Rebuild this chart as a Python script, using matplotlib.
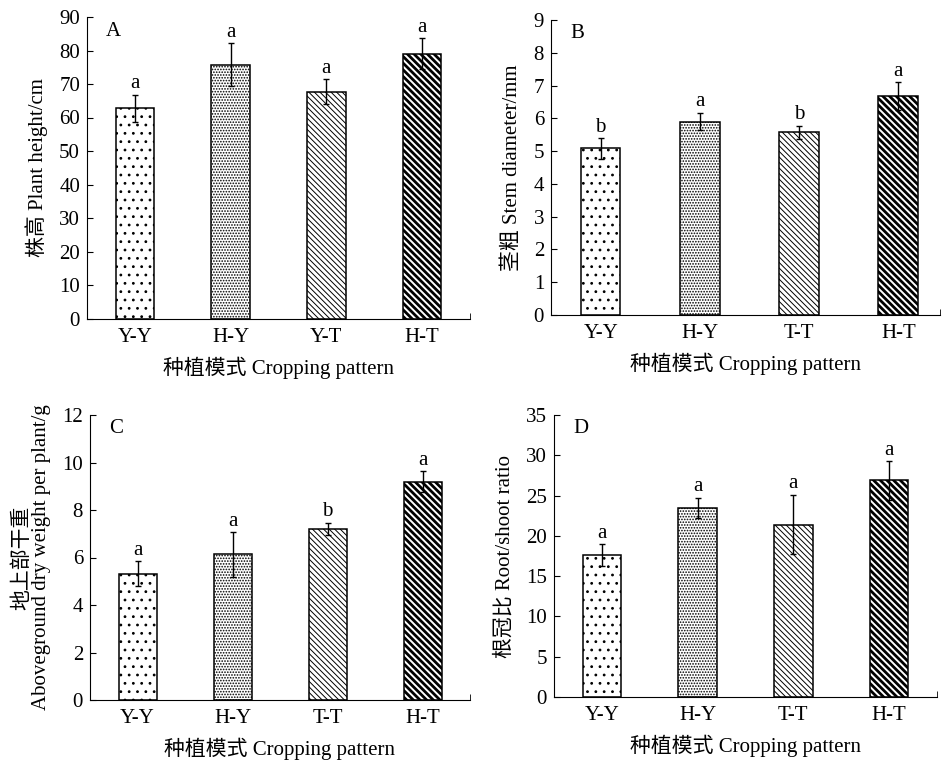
import matplotlib
matplotlib.use("Agg")
import matplotlib.pyplot as plt

plt.rcParams["font.family"] = ["Liberation Serif", "Noto Sans CJK SC"]
plt.rcParams["font.size"] = 15
plt.rcParams["hatch.linewidth"] = 0.8

# Datos
grupos_a = ["Y-Y", "H-Y", "Y-T", "H-T"]
grupos = ["Y-Y", "H-Y", "T-T", "H-T"]

altura = [62.8, 75.8, 67.7, 79.0]
altura_err = [4.0, 6.4, 3.8, 4.6]
altura_sig = ["a", "a", "a", "a"]

tallo = [5.08, 5.90, 5.57, 6.68]
tallo_err = [0.32, 0.27, 0.21, 0.42]
tallo_sig = ["b", "a", "b", "a"]

peso = [5.32, 6.13, 7.20, 9.19]
peso_err = [0.52, 0.93, 0.27, 0.44]
peso_sig = ["a", "a", "b", "a"]

raiz = [17.6, 23.5, 21.4, 26.9]
raiz_err = [1.4, 1.25, 3.7, 2.4]
raiz_sig = ["a", "a", "a", "a"]

tramas = ["..", "......", "\\" * 6, "\\" * 5]
grosor_trama = [0.8, 0.8, 0.7, 2.0]

fig = plt.figure(figsize=(9.42, 7.6), dpi=100)
W, H = 942, 760


def panel(px, etiquetas, valores, errores, sig, ymax, paso, ylabel, letra, xmax=3.5):
    # px = (izquierda, derecha, arriba, abajo) en píxeles
    izq, der, arr, aba = px
    ax = fig.add_axes([izq / W, 1 - aba / H, (der - izq) / W, (aba - arr) / H])
    x = list(range(len(valores)))
    barras = ax.bar(x, valores, width=0.4, color="white", edgecolor="black", linewidth=1.1)
    for b, h, lw in zip(barras, tramas, grosor_trama):
        b.set_hatch(h)
        try:
            b.set_hatch_linewidth(lw)
        except AttributeError:
            pass
    ax.errorbar(x, valores, yerr=errores, fmt="none", ecolor="black", elinewidth=1.0,
                capsize=2.5, capthick=1.0)
    for xi, v, e, s in zip(x, valores, errores, sig):
        ax.annotate(s, (xi, v + e), xytext=(0, 1), textcoords="offset points",
                    ha="center", va="bottom", fontsize=15)
    ax.set_xlim(-0.5, xmax)
    ax.set_ylim(0, ymax)
    ax.set_yticks([i * paso for i in range(int(round(ymax / paso)) + 1)])
    ax.set_xticks(x)
    ax.set_xticklabels(etiquetas)
    ax.set_xticks([xmax], minor=True)
    ax.tick_params(axis="x", which="major", length=0, pad=6.5, labelsize=15)
    ax.tick_params(axis="x", which="minor", direction="in", length=4)
    ax.tick_params(axis="y", direction="in", length=4, pad=5, labelsize=15)
    ax.spines["top"].set_visible(False)
    ax.spines["right"].set_visible(False)
    ax.set_xlabel("种植模式 Cropping pattern", fontsize=15, labelpad=7)
    ax.set_ylabel(ylabel, fontsize=15, labelpad=8, linespacing=1.0)
    ax.text(0.05, 0.985, letra, transform=ax.transAxes, ha="left", va="top", fontsize=15)
    return ax


panel((87, 470, 17, 318.5), grupos_a, altura, altura_err, altura_sig,
      90, 10, "株高 Plant height/cm", "A")
panel((551, 940, 20, 315), grupos, tallo, tallo_err, tallo_sig,
      9, 1, "茎粗 Stem diameter/mm", "B", xmax=3.42)
panel((90, 470, 415, 700), grupos, peso, peso_err, peso_sig,
      12, 2, "地上部干重\nAboveground dry weight per plant/g", "C")
panel((554, 937, 415, 697), grupos, raiz, raiz_err, raiz_sig,
      35, 5, "根冠比 Root/shoot ratio", "D")

fig.savefig("out.png", dpi=100)
